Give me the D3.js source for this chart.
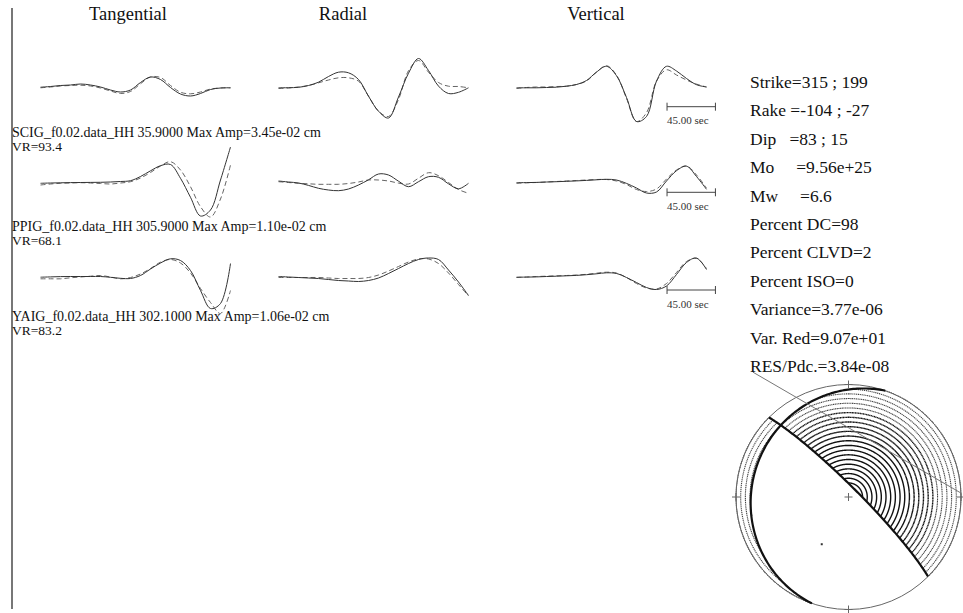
<!DOCTYPE html>
<html>
<head>
<meta charset="utf-8">
<script src="https://cdn.jsdelivr.net/npm/d3@7"></script>
<style>
  body { margin: 0; background: #fff; }
  svg { display: block; font-family: "Liberation Serif", "Times New Roman", serif; }
  text { white-space: pre; fill: #111; }
</style>
</head>
<body>
<svg id="chart" width="963" height="613"></svg>
<script>
// ---- data ----
const components = ['Tangential', 'Radial', 'Vertical'];
const stations = ['SCIG_f0.02.data_HH', 'PPIG_f0.02.data_HH', 'YAIG_f0.02.data_HH'];
const distances = ['35.9000', '305.9000', '302.1000'];
const maxAmps = ['3.45e-02', '1.10e-02', '1.06e-02'];
const varReds = ['93.4', '68.1', '83.2'];

const sampleDt = 9.3;      // sec between samples
const scaleBarSec = 45;    // length of time bar
const scaleBarStart = 140; // sec, measured from trace start

// observed (solid) traces, [station][component]
const observed = [
  [
    [0.3, 1, 2, 2.5, 3.5, 2.5, 0.5, -2.5, -4.5, -2.5, 5, 10.5, 8, 0, -6.5, -8.5, -6, -2, -0.5, -0.3],
    [-0.3, -0.2, 0.2, 2, 5.3, 11, 15.3, 14.7, 8, -8.7, -23.7, -30.5, -9.5, 14.3, 29, 17, 1.4, -6, -4.8, -0.3],
    [-0.3, -0.3, -0.3, 0, 0.3, 1.3, 3, 7, 15.4, 21.2, 11.8, -10, -34, -29, 6.4, 21.2, 16.5, 9, 2.8, 0.5]
  ],
  [
    [-0.3, 0, 0.2, 0.4, 0.5, 0.6, 0.7, 1, 1.5, 2.3, 6.5, 12.2, 17.3, 18.5, 4.7, -14.3, -33, -27, 3, 36],
    [2, 1, 0, -2.4, -5.3, -7, -7.7, -6, -2, 3.2, 9, 8, 1.8, -3.7, 1.3, 6.3, 5.7, -0.8, -5.8, -0.3],
    [0.3, 0.4, 0.6, 1, 1.3, 1.7, 2.1, 2.6, 3.2, 3.7, 3, -0.4, -5, -10, -9, 2, 12.3, 16.8, 6.5, -6.3]
  ],
  [
    [-0.7, -0.4, -0.1, 0, 0, 0, 0, -0.8, -1.8, -2, 1, 7.5, 13.5, 17.7, 16, 6, -14, -32, -27, 13],
    [0, -0.5, -1, -1.5, -2, -3, -4, -4.5, -5, -4, -1.5, 3, 8, 13, 17, 18.5, 17, 6.5, -5.5, -19],
    [-0.7, -0.6, -0.4, 0, 0.3, 0.7, 1.1, 1.8, 2.7, 3.7, 3, -1, -6, -11, -13, -9.5, 2, 14, 18.5, 7]
  ]
];

// synthetic (dashed) traces
const synthetic = [
  [
    [-0.3, 0.5, 1.5, 2, 2.3, 1.5, -0.5, -3.5, -6, -4, 3.7, 10.5, 10, 2, -4.7, -6.3, -4.5, -1.5, -0.5, -0.3],
    [-1, -0.5, 0.5, 2, 4.7, 7.5, 9.7, 9.7, 6.3, -8.7, -23.7, -29, -12, 16.8, 27, 15.3, 5, 1.3, 1, -0.3],
    [-1, 0, 0.5, 0.5, 1, 1.3, 3, 6.5, 15.4, 21.8, 12.4, -10.8, -34, -25.2, 6.3, 17.7, 12.5, 7.5, 3.4, 0.5]
  ],
  [
    [-2, -1, -0.3, 0, 0.3, 0, -0.5, -1, 0, 1.3, 5, 10.5, 17, 21.3, 13, -3.7, -23.7, -34, -16, 18],
    [1.3, 0.5, -0.3, -0.8, -1.3, -1.3, -1.3, -0.5, 1, 3, 3, 2, -0.1, -1, 4.8, 10.3, 7.3, 0.5, -6.5, -10.3],
    [-0.3, 0.2, 0.5, 1, 1.5, 2, 2.5, 3, 3.5, 3.5, 2, -1.5, -6.5, -8.5, -6, 4, 13, 17, 8, -5]
  ],
  [
    [-2.3, -2.3, -2.3, -1.3, -0.5, 0.3, 1, -0.5, -2.3, -1, 2.5, 8, 14.3, 17, 13.5, 3.5, -12, -26, -37, -14],
    [-1, -1, -1, -1, -1, -1.5, -2, -2, -2, -1, 1.5, 5.5, 10, 14.5, 17.5, 17.5, 13, 3.5, -8, -19.5],
    [-1, -0.5, 0, 0.3, 0.7, 1, 1.5, 2.2, 3.3, 4.3, 3.5, -1, -7, -11.5, -12.5, -7, 4, 15, 18, 8]
  ]
];

// moment tensor solution
const strikes = [315, 199];
const dips = [83, 15];
const rakes = [-104, -27];
const solution = [
  ['Mo', '9.56e+25'], ['Mw', '6.6'], ['Percent DC', '98'], ['Percent CLVD', '2'],
  ['Percent ISO', '0'], ['Variance', '3.77e-06'], ['Var. Red', '9.07e+01'], ['RES/Pdc.', '3.84e-08']
];
const hatchCount = 24;
const guideLine = [[-0.85, 1.11], [1.0, 0.035]]; // in projection units

// ---- layout ----
const svg = d3.select('#chart');
const rowY = [87.5, 183, 276.5];
const colX = [40.5, 278.5, 516.5];
const headerX = [128, 343, 596];
const labelY = [137, 230.5, 320.5];
const barY = [106.7, 192.3, 290];
const traceW = 190;

// left border
svg.append('line')
  .attr('x1', 12).attr('x2', 12).attr('y1', 8).attr('y2', 609)
  .attr('stroke', '#777').attr('stroke-width', 2);

// column headers
svg.selectAll('.hdr').data(components).join('text')
  .attr('class', 'hdr')
  .attr('x', (d, i) => headerX[i]).attr('y', 20)
  .attr('text-anchor', 'middle')
  .style('font-size', '18.5px')
  .text(d => d);

const nSamp = observed[0][0].length;
const x = d3.scaleLinear().domain([0, (nSamp - 1) * sampleDt]).range([0, traceW]);
const y = d3.scaleLinear().domain([-40, 40]).range([40, -40]);
const line = d3.line()
  .x((d, i) => x(i * sampleDt))
  .y(d => y(d))
  .curve(d3.curveCatmullRom.alpha(0.5));

stations.forEach((st, r) => {
  components.forEach((c, k) => {
    const g = svg.append('g').attr('transform', `translate(${colX[k]},${rowY[r]})`);
    g.append('path').attr('d', line(synthetic[r][k]))
      .attr('fill', 'none').attr('stroke', '#666').attr('stroke-width', 1)
      .attr('stroke-dasharray', '5,3');
    g.append('path').attr('d', line(observed[r][k]))
      .attr('fill', 'none').attr('stroke', '#333').attr('stroke-width', 1);
  });

  // time scale bar under vertical column
  const bx0 = colX[2] + x(scaleBarStart);
  const bx1 = colX[2] + x(scaleBarStart + scaleBarSec);
  const bar = svg.append('g').attr('stroke', '#444').attr('stroke-width', 1);
  bar.append('line').attr('x1', bx0).attr('x2', bx1).attr('y1', barY[r]).attr('y2', barY[r]);
  [bx0, bx1].forEach(bx => bar.append('line')
    .attr('x1', bx).attr('x2', bx).attr('y1', barY[r] - 4).attr('y2', barY[r] + 4));
  svg.append('text').attr('x', bx0).attr('y', barY[r] + 17.5)
    .style('font-size', '11px').style('fill', '#333')
    .text(`${scaleBarSec.toFixed(2)} sec`);

  // station labels
  svg.append('text').attr('x', 12).attr('y', labelY[r])
    .style('font-size', '14px')
    .text(`${st} ${distances[r]} Max Amp=${maxAmps[r]} cm`);
  svg.append('text').attr('x', 12).attr('y', labelY[r] + 14)
    .style('font-size', '13.5px')
    .text(`VR=${varReds[r]}`);
});

// solution text
const infoLines = [
  `Strike=${strikes[0]} ; ${strikes[1]}`,
  `Rake =${rakes[0]} ; ${rakes[1]}`,
  `Dip   =${dips[0]} ; ${dips[1]}`,
  `${solution[0][0]}     =${solution[0][1]}`,
  `${solution[1][0]}     =${solution[1][1]}`
].concat(solution.slice(2).map(d => `${d[0]}=${d[1]}`));

svg.selectAll('.info').data(infoLines).join('text')
  .attr('class', 'info')
  .attr('x', 750).attr('y', (d, i) => 88 + i * 28.4)
  .style('font-size', '17.5px')
  .text(d => d);

// ---- beachball (lower hemisphere, equal area) ----
const rad = Math.PI / 180;
const cx = 848.5, cy = 497, R = 112.5;
const bxs = d3.scaleLinear().domain([-1, 1]).range([cx - R, cx + R]);
const bys = d3.scaleLinear().domain([-1, 1]).range([cy + R, cy - R]);

const phi = strikes[0] * rad, del = dips[0] * rad, lam = rakes[0] * rad;
const nVec = [-Math.sin(del) * Math.sin(phi), Math.sin(del) * Math.cos(phi), -Math.cos(del)];
const dVec = [
  Math.cos(lam) * Math.cos(phi) + Math.sin(lam) * Math.cos(del) * Math.sin(phi),
  Math.cos(lam) * Math.sin(phi) - Math.sin(lam) * Math.cos(del) * Math.cos(phi),
  -Math.sin(lam) * Math.sin(del)
];
const dot = (a, b) => a[0] * b[0] + a[1] * b[1] + a[2] * b[2];

function project(v) {
  let [nn, ee, dd] = v;
  if (dd < 0) { nn = -nn; ee = -ee; dd = -dd; }
  const len = Math.sqrt(nn * nn + ee * ee + dd * dd);
  const th = Math.acos(Math.min(1, dd / len));
  const rho = Math.SQRT2 * Math.sin(th / 2);
  const az = Math.atan2(ee, nn);
  return [rho * Math.sin(az), rho * Math.cos(az)];
}

const bb = svg.append('g');

// hatch: concentric circles kept where compressional
const hatchLine = d3.line().defined(p => p.c).x(p => bxs(p.x)).y(p => bys(p.y));
d3.range(1, hatchCount + 1).forEach(k => {
  const rho = k / hatchCount;
  const th = 2 * Math.asin(rho / Math.SQRT2);
  const pts = d3.range(0, 360.25, 0.5).map(a => {
    const ar = a * rad;
    const v = [Math.sin(th) * Math.cos(ar), Math.sin(th) * Math.sin(ar), Math.cos(th)];
    return { x: rho * Math.sin(ar), y: rho * Math.cos(ar), c: dot(v, nVec) * dot(v, dVec) > 0 };
  });
  const rpx = rho * R;
  const gap = Math.max(0, rpx / 70 - 0.8);
  bb.append('path').attr('d', hatchLine(pts))
    .attr('fill', 'none')
    .attr('stroke', rpx > 85 ? '#444' : '#111')
    .attr('stroke-width', rpx > 85 ? 1.1 : 1.4)
    .attr('stroke-dasharray', gap > 0 ? `1.2,${gap.toFixed(2)}` : null);
});

// outer circle
bb.append('circle').attr('cx', cx).attr('cy', cy).attr('r', R)
  .attr('fill', 'none').attr('stroke', '#666').attr('stroke-width', 1);

// nodal planes
const planeLine = d3.line().x(p => bxs(p[0])).y(p => bys(p[1]));
strikes.forEach((s, i) => {
  const ph = s * rad, dp = dips[i] * rad;
  const pts = d3.range(0, 180.5, 1).map(t => {
    const tr = t * rad;
    return project([
      Math.cos(tr) * Math.cos(ph) - Math.sin(tr) * Math.cos(dp) * Math.sin(ph),
      Math.cos(tr) * Math.sin(ph) + Math.sin(tr) * Math.cos(dp) * Math.cos(ph),
      Math.sin(tr) * Math.sin(dp)
    ]);
  });
  bb.append('path').attr('d', planeLine(pts))
    .attr('fill', 'none').attr('stroke', '#111').attr('stroke-width', 2.2);
});

// guide line
bb.append('path').attr('d', planeLine(guideLine))
  .attr('fill', 'none').attr('stroke', '#777').attr('stroke-width', 1);

// crosses at N, E, S, W and centre
[[0, 1], [1, 0], [0, -1], [-1, 0], [0, 0]].forEach(p => {
  const px = bxs(p[0]), py = bys(p[1]);
  bb.append('path').attr('d', `M${px - 4},${py}H${px + 4}M${px},${py - 4}V${py + 4}`)
    .attr('stroke', '#666').attr('stroke-width', 1);
});

// P axis
const pAxis = project([nVec[0] - dVec[0], nVec[1] - dVec[1], nVec[2] - dVec[2]]);
bb.append('rect').attr('x', bxs(pAxis[0]) - 1).attr('y', bys(pAxis[1]) - 1)
  .attr('width', 2).attr('height', 2).attr('fill', '#333');
</script>
</body>
</html>
